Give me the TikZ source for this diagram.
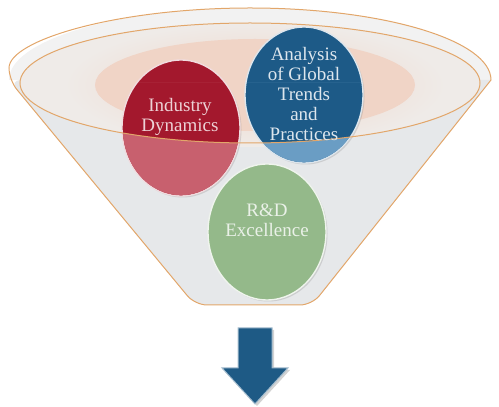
\documentclass[tikz,border=0pt]{standalone}
\usepackage{fontspec}
\setmainfont{Liberation Serif}
\usetikzlibrary{shapes.geometric,shadows}
\definecolor{conegray}{HTML}{E6E8EA}
\definecolor{rimwhite}{HTML}{F2F2F2}
\definecolor{rimorange}{HTML}{E2A66A}
\definecolor{innerbg}{HTML}{EFEBE8}
\definecolor{blobpink}{HTML}{F0D4C6}
\definecolor{reddark}{HTML}{A3182D}
\definecolor{redlight}{HTML}{C8606E}
\definecolor{bluedark}{HTML}{1D5A87}
\definecolor{bluelight}{HTML}{6A9DC4}
\definecolor{greenfill}{HTML}{94B98A}
\definecolor{arrowblue}{HTML}{1E5A85}
\tikzset{
  bubble/.style={ellipse, minimum width=118pt, minimum height=136pt, inner sep=0pt, line width=1.4pt, drop shadow={opacity=0.25, shadow xshift=1.5pt, shadow yshift=-1.5pt}},
  txt/.style={align=center, font=\fontsize{19}{20}\selectfont, inner sep=0pt}
}
\begin{document}
\begin{tikzpicture}[x=1pt,y=1pt]
\useasboundingbox (0,0) rectangle (499,407);
% funnel body
\fill[rimwhite] (9,327) arc[start angle=180,end angle=0,x radius=241,y radius=72] -- cycle;
\fill[conegray] (9,327) -- (491,327) [rounded corners=12] -- (312,102) -- (195,102) -- cycle;
\draw[rimorange, line width=1pt] (9,327) arc[start angle=180,end angle=0,x radius=241,y radius=72]
  [rounded corners=12] -- (312,102) -- (195,102) -- cycle;
% opening
\fill[innerbg] (250,324) ellipse[x radius=230, y radius=60];
\shade[inner color=blobpink, outer color=innerbg] (255,322) ellipse[x radius=190, y radius=62];
\fill[blobpink] (255,322) ellipse[x radius=160, y radius=46];
% bubbles
\node[bubble, fill=reddark, draw=white!85!reddark] (red) at (181,279) {};
\node[bubble, fill=bluedark, draw=white!85!bluedark] (blue) at (304,312) {};
\begin{scope}[even odd rule]
  \clip (0,0) rectangle (499,324) (20,324) arc[start angle=180,end angle=360,x radius=230,y radius=60] -- cycle;
  \fill[redlight] (red.center) ellipse[x radius=58.3, y radius=67.3];
  \fill[bluelight] (blue.center) ellipse[x radius=58.3, y radius=67.3];
\end{scope}
\node[bubble, fill=greenfill, draw=white!85!greenfill] (green) at (267,175) {};
% rim line
\draw[rimorange, line width=1pt] (250,324) ellipse[x radius=230, y radius=60];
% texts
\node[txt, text=white!80!reddark] (redtxt) at (180,290) {Industry\\Dynamics};
\node[txt, text=white!85!bluedark] (bluetxt) at (304,313) {Analysis\\of Global\\Trends\\and\\Practices};
\node[txt, text=white!80!greenfill] (greentxt) at (267,187) {R\&D\\Excellence};
% arrow
\draw[fill=arrowblue, draw=arrowblue!40!white, line width=1pt,
  drop shadow={opacity=0.35, shadow xshift=2pt, shadow yshift=-2pt}]
  (238,79) -- (272,79) -- (272,39) -- (288,39) -- (255,3) -- (222,39) -- (238,39) -- cycle;
\end{tikzpicture}
\end{document}
